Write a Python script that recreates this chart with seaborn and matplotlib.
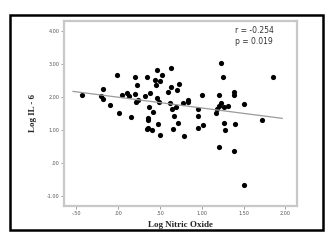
import numpy as np
import pandas as pd
import seaborn as sns
import matplotlib.pyplot as plt
from matplotlib.patches import Rectangle
from matplotlib.ticker import FuncFormatter

# values
log_no = [-0.43, -0.21, -0.18, -0.18, -0.10, -0.02, 0.01, 0.04, 0.11, 0.13,
          0.15, 0.20, 0.20, 0.21, 0.22, 0.24, 0.32, 0.34, 0.35, 0.35,
          0.36, 0.34, 0.37, 0.38, 0.40, 0.42, 0.44, 0.45, 0.46, 0.46,
          0.48, 0.49, 0.50, 0.50, 0.52, 0.60, 0.62, 0.63, 0.63, 0.64,
          0.66, 0.67, 0.69, 0.70, 0.71, 0.73, 0.78, 0.79, 0.83, 0.83,
          0.95, 0.96, 0.96, 1.00, 1.01, 1.17, 1.18, 1.20, 1.20, 1.21,
          1.23, 1.23, 1.25, 1.26, 1.27, 1.28, 1.31, 1.38, 1.39, 1.39,
          1.40, 1.51, 1.51, 1.72, 1.85]
log_il6 = [2.04, 2.03, 2.22, 1.92, 1.75, 2.67, 1.51, 2.04, 2.12, 2.02,
           1.40, 2.59, 2.07, 1.84, 2.34, 1.90, 2.03, 2.61, 1.36, 1.30,
           1.06, 1.02, 1.70, 2.10, 1.00, 1.55, 2.50, 2.35, 2.80, 1.95,
           1.18, 1.85, 0.85, 2.48, 2.65, 2.15, 1.82, 2.30, 2.86, 1.63,
           1.02, 1.43, 1.68, 2.20, 1.21, 2.38, 1.80, 0.82, 1.90, 1.84,
           1.07, 1.43, 1.62, 2.06, 1.16, 1.52, 1.63, 0.47, 2.04, 1.72,
           1.80, 3.03, 2.60, 1.21, 1.70, 0.99, 1.73, 2.15, 2.06, 0.37,
           1.19, 1.77, -0.68, 1.31, 2.61]
x_ticks = [-0.5, 0.0, 0.5, 1.0, 1.5, 2.0]
y_ticks = [-1.0, 0.0, 1.0, 2.0, 3.0, 4.0]
stats_text = "r = -0.254\np = 0.019"

df = pd.DataFrame({"no": log_no, "il6": log_il6})

sns.set_style("white")
fig = plt.figure(figsize=(3.33, 2.4), dpi=100)
ax = fig.add_axes([0.193, 0.142, 0.698, 0.772])

sns.regplot(data=df, x="no", y="il6", ax=ax, ci=None, truncate=False,
            scatter_kws={"s": 14, "color": "black", "linewidths": 0, "alpha": 1},
            line_kws={"color": "#9a9a9a", "lw": 0.9})

ax.set_xlim(-0.646, 2.135)
ax.set_ylim(-1.30, 4.30)
ax.set_xticks(x_ticks)
ax.set_yticks(y_ticks)

def fmt(v, pos):
    s = "%.2f" % v
    return s.replace("0.", ".", 1) if abs(v) < 1 else s

ax.xaxis.set_major_formatter(FuncFormatter(fmt))
ax.yaxis.set_major_formatter(FuncFormatter(fmt))
ax.tick_params(axis="both", which="major", length=2, width=0.5, color="#777777",
               labelsize=3.5, labelcolor="#555555", pad=1.5,
               bottom=True, left=True)
for sp in ax.spines.values():
    sp.set_color("#c8c8c8")
    sp.set_linewidth(1.6)

ax.set_xlabel("Log Nitric Oxide", family="Liberation Serif", fontweight="bold",
              fontsize=6.5, labelpad=4)
ax.set_ylabel("Log IL - 6", family="Liberation Serif", fontweight="bold",
              fontsize=6.5, labelpad=7)
ax.text(0.735, 0.97, stats_text, transform=ax.transAxes, ha="left", va="top",
        fontsize=5.5, color="#333333", linespacing=1.3)

fig.patches.append(Rectangle((0.030, 0.042), 0.940, 0.896, transform=fig.transFigure,
                             fill=False, edgecolor="black", linewidth=1.8))

fig.savefig("out.png", dpi=100)
